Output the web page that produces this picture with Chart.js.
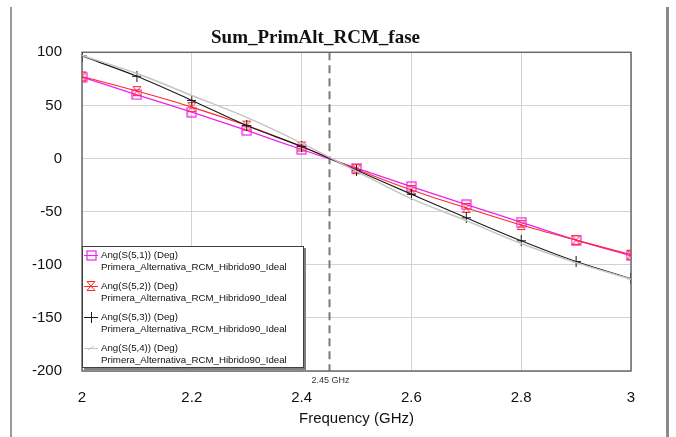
<!DOCTYPE html>
<html>
<head>
<meta charset="utf-8">
<script src="https://cdn.jsdelivr.net/npm/chart.js@4.4.1/dist/chart.umd.min.js"></script>
<style>
  html, body { margin: 0; padding: 0; background: #ffffff; }
  #wrap { width: 676px; height: 437px; position: relative; }
</style>
</head>
<body>
<div id="wrap"><canvas id="c" width="676" height="437"></canvas></div>
<script>
// Frequency sweep (GHz) and phase of each transmission parameter (degrees)
const freqGHz = [2.0, 2.1, 2.2, 2.3, 2.4, 2.5, 2.6, 2.7, 2.8, 2.9, 3.0];
const angS51 = [76.7, 60.0, 43.7, 26.4, 8.5, -9.1, -26.4, -43.4, -60.0, -76.7, -91.5];
const angS52 = [77.3, 63.5, 48.4, 31.0, 11.3, -10.0, -29.6, -46.5, -62.6, -76.8, -90.5];
const angS53 = [96.5, 77.4, 54.7, 31.0, 11.3, -11.0, -33.5, -55.8, -77.4, -97.0, -113.0];
const angS54 = [97.0, 80.0, 59.4, 38.7, 14.5, -12.0, -37.8, -58.5, -80.0, -98.0, -113.5];

const seriesNames = [
  'Ang(S(5,1)) (Deg)',
  'Ang(S(5,2)) (Deg)',
  'Ang(S(5,3)) (Deg)',
  'Ang(S(5,4)) (Deg)'
];
const designName = 'Primera_Alternativa_RCM_Hibrido90_Ideal';

const xTicks = [2, 2.2, 2.4, 2.6, 2.8, 3];
const yTicks = [-200, -150, -100, -50, 0, 50, 100];
const markerFreq = 2.45;
const markerLabel = '2.45 GHz';

const PINK = '#f020f0';
const RED = '#ff2a2a';
const BLACK = '#1a1a1a';
const GRAY = '#c4c4c4';

// ---- marker glyphs ----
function glyph(w, h, draw) {
  const c = document.createElement('canvas');
  c.width = w; c.height = h;
  const g = c.getContext('2d');
  draw(g, w, h);
  return c;
}
const squareGlyph = glyph(11, 11, (g) => {
  g.strokeStyle = PINK; g.lineWidth = 1.2;
  g.strokeRect(1, 1, 9, 9);
});
const hourglassGlyph = glyph(10, 12, (g) => {
  g.strokeStyle = RED; g.lineWidth = 1;
  g.beginPath();
  g.moveTo(1, 1.5); g.lineTo(9, 1.5);
  g.moveTo(1, 10.5); g.lineTo(9, 10.5);
  g.moveTo(1, 1.5); g.lineTo(9, 10.5);
  g.moveTo(9, 1.5); g.lineTo(1, 10.5);
  g.stroke();
});
const plusGlyph = glyph(9, 11, (g) => {
  g.strokeStyle = BLACK; g.lineWidth = 1;
  g.beginPath();
  g.moveTo(4.5, 0); g.lineTo(4.5, 11);
  g.moveTo(0, 5.5); g.lineTo(9, 5.5);
  g.stroke();
});
const tickGlyph = glyph(8, 8, (g) => {
  g.strokeStyle = GRAY; g.lineWidth = 1;
  g.beginPath();
  g.moveTo(1, 6); g.lineTo(7, 2);
  g.stroke();
});

function pts(vals) { return freqGHz.map((f, i) => ({ x: f, y: vals[i] })); }

const datasets = [
  { label: seriesNames[0], data: pts(angS51), borderColor: PINK, borderWidth: 1.3,
    pointStyle: squareGlyph, legendGlyph: squareGlyph },
  { label: seriesNames[1], data: pts(angS52), borderColor: RED, borderWidth: 1.1,
    pointStyle: hourglassGlyph, legendGlyph: hourglassGlyph },
  { label: seriesNames[2], data: pts(angS53), borderColor: BLACK, borderWidth: 1.1,
    pointStyle: plusGlyph, legendGlyph: plusGlyph },
  { label: seriesNames[3], data: pts(angS54), borderColor: GRAY, borderWidth: 1.5,
    pointStyle: false, pointRadius: 0, legendGlyph: tickGlyph }
].map(d => Object.assign({ fill: false, cubicInterpolationMode: 'monotone', backgroundColor: 'transparent' }, d));
// draw grey first so the others sit on top
datasets.reverse();

// ---- plugins ----
const pageFrame = {
  id: 'pageFrame',
  beforeDraw(chart) {
    const g = chart.ctx;
    g.save();
    g.fillStyle = '#ffffff';
    g.fillRect(0, 0, chart.width, chart.height);
    g.fillStyle = '#9a9a9a';
    g.fillRect(10, 7, 2, chart.height - 7);
    g.fillStyle = '#8a8a8a';
    g.fillRect(666, 7, 3, chart.height - 7);
    g.restore();
  }
};

const freqMarker = {
  id: 'freqMarker',
  beforeDatasetsDraw(chart) {
    const { ctx: g, chartArea: a, scales } = chart;
    const x = Math.round(scales.x.getPixelForValue(markerFreq)) + 0.5;
    g.save();
    g.strokeStyle = '#7a7a7a';
    g.lineWidth = 2;
    g.setLineDash([8, 5]);
    g.beginPath();
    g.moveTo(x, a.top);
    g.lineTo(x, a.bottom);
    g.stroke();
    g.setLineDash([]);
    g.fillStyle = '#333333';
    g.font = '9px "Liberation Sans", Arial, sans-serif';
    g.textAlign = 'center';
    g.textBaseline = 'middle';
    g.fillText(markerLabel, x + 1, a.bottom + 10);
    // plot frame
    g.strokeStyle = '#6a6a6a';
    g.lineWidth = 1.5;
    g.strokeRect(a.left, a.top, a.right - a.left, a.bottom - a.top);
    g.restore();
  }
};

const boxLegend = {
  id: 'boxLegend',
  afterDraw(chart) {
    const g = chart.ctx;
    const a = chart.chartArea;
    const left = a.left, top = 246, right = 304, bottom = 368;
    g.save();
    g.fillStyle = '#808080';
    g.fillRect(left + 2, top + 2, right - left, bottom - top);
    g.fillStyle = '#ffffff';
    g.fillRect(left, top, right - left, bottom - top);
    g.strokeStyle = '#404040';
    g.lineWidth = 1;
    g.strokeRect(left + 0.5, top + 0.5, right - left - 1, bottom - top - 1);
    const items = chart.data.datasets.slice().reverse();
    g.font = '9.7px "Liberation Sans", Arial, sans-serif';
    g.textBaseline = 'middle';
    g.textAlign = 'left';
    items.forEach((ds, i) => {
      const y = 255 + i * 31;
      g.strokeStyle = ds.borderColor;
      g.lineWidth = 1;
      g.beginPath();
      g.moveTo(left + 2, y + 0.5);
      g.lineTo(left + 16, y + 0.5);
      g.stroke();
      const img = ds.legendGlyph;
      g.drawImage(img, Math.round(left + 9 - img.width / 2), Math.round(y - img.height / 2));
      g.fillStyle = '#111111';
      g.fillText(ds.label, left + 19, y);
      g.fillText(designName, left + 19, y + 12);
    });
    g.restore();
  }
};

new Chart(document.getElementById('c'), {
  type: 'line',
  data: { datasets },
  plugins: [pageFrame, freqMarker, boxLegend],
  options: {
    responsive: false,
    animation: false,
    layout: { padding: { left: 0, right: 45, top: 0, bottom: 0 } },
    elements: { point: { radius: 5, hoverRadius: 5 }, line: { tension: 0 } },
    plugins: {
      legend: { display: false },
      tooltip: { enabled: false },
      title: {
        display: true,
        text: 'Sum_PrimAlt_RCM_fase',
        color: '#111111',
        font: { family: '"Liberation Serif", "Times New Roman", serif', size: 19, weight: 'bold' },
        padding: { top: 27, bottom: 2.5 }
      }
    },
    scales: {
      x: {
        type: 'linear', min: 2, max: 3,
        afterBuildTicks(s) { s.ticks = xTicks.map(v => ({ value: v })); },
        afterFit(s) { s.height = 66; },
        ticks: {
          color: '#111111', padding: 18, maxRotation: 0,
          font: { family: '"Liberation Sans", Arial, sans-serif', size: 15 },
          callback: v => String(Math.round(v * 10) / 10)
        },
        grid: { color: '#d2d2d2', lineWidth: 1, drawTicks: false },
        border: { display: false },
        title: {
          display: true, text: 'Frequency (GHz)', color: '#111111',
          font: { family: '"Liberation Sans", Arial, sans-serif', size: 15 },
          padding: { top: 0, bottom: 9 }
        }
      },
      y: {
        type: 'linear', min: -200, max: 100,
        afterBuildTicks(s) { s.ticks = yTicks.map(v => ({ value: v })); },
        afterFit(s) { s.width = 82; },
        ticks: {
          color: '#111111', padding: 20,
          font: { family: '"Liberation Sans", Arial, sans-serif', size: 15 }
        },
        grid: { color: '#d2d2d2', lineWidth: 1, drawTicks: false },
        border: { display: false }
      }
    }
  }
});
</script>
</body>
</html>
